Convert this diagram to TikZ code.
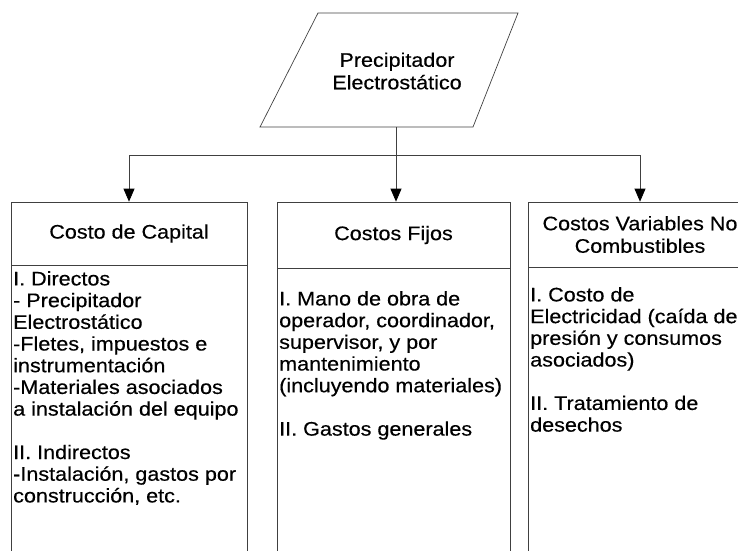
\documentclass[tikz,border=0pt]{standalone}
\usepackage{fontspec}
\setmainfont[FakeStretch=1.1,FakeBold=0.4]{Liberation Sans}
\usetikzlibrary{arrows.meta}
\begin{document}
\begin{tikzpicture}[x=1pt,y=-1pt,
  ln/.style={draw=black!75,line width=0.7pt},
  arr/.style={ln,-{Triangle[width=11pt,length=13pt,color=black,fill=black]}},
  hdr/.style={ln,rectangle,inner sep=0pt,align=center,font=\fontsize{19.6}{22.5}\selectfont},
  bodybox/.style={ln,rectangle,inner sep=0pt},
  txt/.style={anchor=north west,inner sep=0pt,align=left,font=\fontsize{19.6}{21.7}\selectfont}]
\useasboundingbox (0,0) rectangle (738,550);
% top parallelogram
\draw[ln] (318,13) -- (518,13) -- (473,127) -- (260,127) -- cycle;
\node[inner sep=0pt,align=center,font=\fontsize{19.6}{22.5}\selectfont] (prec) at (397,71) {Precipitador\\Electrostático};
\coordinate (pbot) at (396,127);
\coordinate (bus) at (396,155);
% headers
\node[hdr,minimum width=236pt,minimum height=63pt] (h1) at (129,233.5) {Costo de Capital};
\node[hdr,minimum width=233pt,minimum height=66pt] (h2) at (393.5,235) {Costos Fijos};
\node[hdr,minimum width=224pt,minimum height=65pt] (h3) at (640,234.5) {Costos Variables No\\Combustibles};
% bodies
\node[bodybox,anchor=north,minimum width=236pt,minimum height=300pt] (b1) at (h1.south) {};
\node[bodybox,anchor=north,minimum width=233pt,minimum height=300pt] (b2) at (h2.south) {};
\node[bodybox,anchor=north,minimum width=224pt,minimum height=300pt] (b3) at (h3.south) {};
% body texts
\node[txt] (t1) at (13,271) {I. Directos\\- Precipitador\\Electrostático\\-Fletes, impuestos e\\instrumentación\\-Materiales asociados\\a instalación del equipo\\[21.7pt]II. Indirectos\\-Instalación, gastos por\\construcción, etc.};
\node[txt] (t2) at (279,291) {I. Mano de obra de\\operador, coordinador,\\supervisor, y por\\mantenimiento\\(incluyendo materiales)\\[21.7pt]II. Gastos generales};
\node[txt] (t3) at (530,287) {I. Costo de\\Electricidad (caída de\\presión y consumos\\asociados)\\[21.7pt]II. Tratamiento de\\desechos};
% connectors
\draw[ln] (pbot) -- (bus);
\draw[arr] (bus) -- (bus |- h2.north);
\draw[arr] (bus) -| (h1.north);
\draw[arr] (bus) -| (h3.north);
\end{tikzpicture}
\end{document}
